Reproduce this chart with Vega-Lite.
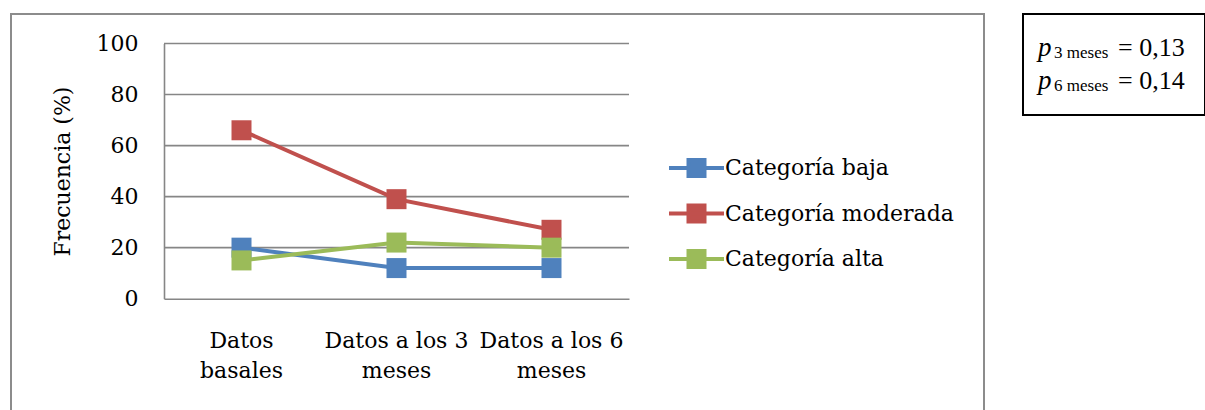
{
  "$schema": "https://vega.github.io/schema/vega-lite/v6.json",
  "autosize": {"type": "pad"},
  "padding": {"left": 10, "top": 13, "right": 0, "bottom": 0},
  "background": "white",
  "config": {"font": "DejaVu Serif", "view": {"stroke": null}},
  "bounds": "flush",
  "spacing": 39,
  "hconcat": [
    {
      "width": 973,
      "height": 400,
      "view": {"stroke": "#8c8c8c", "strokeWidth": 2},
      "resolve": {"scale": {"x": "independent"}},
      "layer": [
        {
          "data": {"values": [{"v": 20}, {"v": 40}, {"v": 60}, {"v": 80}, {"v": 100}]},
          "mark": {"type": "rule", "color": "#868686", "strokeWidth": 1.6},
          "encoding": {
            "y": {"field": "v", "type": "quantitative"},
            "x": {"datum": 0, "type": "quantitative", "scale": {"domain": [0, 1], "range": [153, 618]}, "axis": null},
            "x2": {"datum": 1}
          }
        },
        {
          "data": {"values": [
            {"periodo": "Datos basales", "categoria": "Categoría baja", "valor": 20},
            {"periodo": "Datos a los 3 meses", "categoria": "Categoría baja", "valor": 12},
            {"periodo": "Datos a los 6 meses", "categoria": "Categoría baja", "valor": 12},
            {"periodo": "Datos basales", "categoria": "Categoría moderada", "valor": 66},
            {"periodo": "Datos a los 3 meses", "categoria": "Categoría moderada", "valor": 39},
            {"periodo": "Datos a los 6 meses", "categoria": "Categoría moderada", "valor": 27},
            {"periodo": "Datos basales", "categoria": "Categoría alta", "valor": 15},
            {"periodo": "Datos a los 3 meses", "categoria": "Categoría alta", "valor": 22},
            {"periodo": "Datos a los 6 meses", "categoria": "Categoría alta", "valor": 20}
          ]},
          "mark": {"type": "line", "strokeWidth": 4, "point": {"shape": "square", "size": 400, "filled": true, "opacity": 1}},
          "encoding": {
            "x": {
              "field": "periodo", "type": "nominal",
              "sort": ["Datos basales", "Datos a los 3 meses", "Datos a los 6 meses"],
              "scale": {"type": "band", "range": [153, 618], "paddingInner": 0, "paddingOuter": 0},
              "axis": {
                "title": null, "offset": -115.3, "grid": false, "ticks": false,
                "domainColor": "#868686", "domainWidth": 1.6,
                "labelAngle": 0, "labelFont": "DejaVu Serif", "labelFontSize": 22, "labelColor": "black",
                "labelPadding": 32, "labelBaseline": "top", "labelLineHeight": 30, "labelLimit": 300,
                "labelExpr": "datum.value == 'Datos basales' ? ['Datos', 'basales'] : [replace(datum.value, ' meses', ''), 'meses']"
              }
            },
            "y": {
              "field": "valor", "type": "quantitative",
              "scale": {"domain": [0, 100], "range": [284.7, 29.5], "nice": false, "zero": true},
              "axis": {
                "title": "Frecuencia (%)", "values": [0, 20, 40, 60, 80, 100], "grid": false, "ticks": false,
                "offset": -153, "domainColor": "#868686", "domainWidth": 1.6,
                "labelFont": "DejaVu Serif", "labelFontSize": 22, "labelColor": "black", "labelPadding": 26,
                "titleFont": "DejaVu Serif", "titleFontSize": 22, "titleFontWeight": "normal", "titleColor": "black", "titlePadding": 22
              }
            },
            "color": {
              "field": "categoria", "type": "nominal",
              "scale": {"domain": ["Categoría baja", "Categoría moderada", "Categoría alta"], "range": ["#4F81BD", "#C0504D", "#9BBB59"]},
              "legend": {
                "title": null, "orient": "none", "legendX": 671, "legendY": 139.5, "padding": 0,
                "labelFont": "DejaVu Serif", "labelFontSize": 22, "labelColor": "black", "labelLimit": 400,
                "symbolType": "M-2.2,0H2.2M-0.64,-0.64H0.64V0.64H-0.64Z", "symbolSize": 625, "symbolStrokeWidth": 4,
                "labelOffset": 14, "rowPadding": 12.5,
                "encode": {"symbols": {"update": {"fill": {"signal": "datum.value == 'Categoría baja' ? '#4F81BD' : datum.value == 'Categoría moderada' ? '#C0504D' : '#9BBB59'"}, "opacity": {"value": 1}}}}
              }
            }
          }
        }
      ]
    },
    {
      "width": 182,
      "height": 101,
      "view": {"stroke": "black", "strokeWidth": 2},
      "data": {"values": [{"sub": "3 meses", "eq": "= 0,13"}, {"sub": "6 meses", "eq": "= 0,14"}]},
      "encoding": {"y": {"field": "sub", "type": "nominal", "scale": {"type": "point", "range": [42, 75], "padding": 0}, "axis": null}},
      "layer": [
        {"mark": {"type": "text", "text": "p", "font": "Liberation Serif", "fontStyle": "italic", "fontSize": 27, "align": "left", "baseline": "alphabetic", "dx": -76, "color": "black"}},
        {"mark": {"type": "text", "font": "Liberation Serif", "fontSize": 17, "align": "left", "baseline": "alphabetic", "dx": -60, "dy": 2, "color": "black"}, "encoding": {"text": {"field": "sub"}}},
        {"mark": {"type": "text", "font": "Liberation Serif", "fontSize": 26, "align": "left", "baseline": "alphabetic", "dx": 4, "color": "black"}, "encoding": {"text": {"field": "eq"}}}
      ]
    }
  ]
}
